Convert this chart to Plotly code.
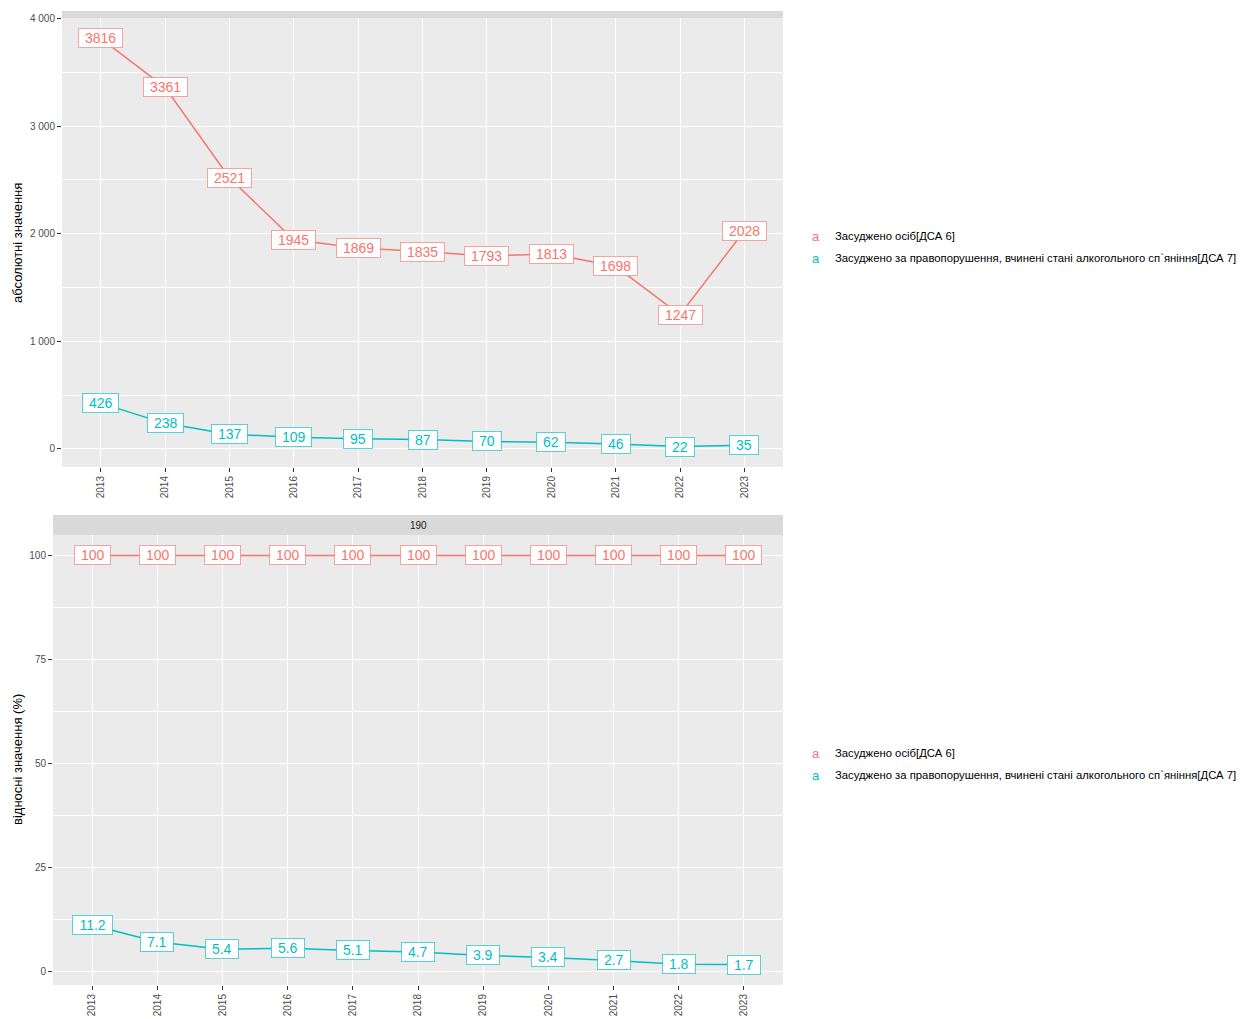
import plotly.graph_objects as go

years = [2013, 2014, 2015, 2016, 2017, 2018, 2019, 2020, 2021, 2022, 2023]
series_names = ["Засуджено осіб[ДСА 6]",
                "Засуджено за правопорушення, вчинені стані алкогольного сп`яніння[ДСА 7]"]
abs_convicted = [3816, 3361, 2521, 1945, 1869, 1835, 1793, 1813, 1698, 1247, 2028]
abs_alcohol = [426, 238, 137, 109, 95, 87, 70, 62, 46, 22, 35]
rel_convicted = [100, 100, 100, 100, 100, 100, 100, 100, 100, 100, 100]
rel_alcohol = [11.2, 7.1, 5.4, 5.6, 5.1, 4.7, 3.9, 3.4, 2.7, 1.8, 1.7]
rel_labels_alcohol = ["11.2", "7.1", "5.4", "5.6", "5.1", "4.7", "3.9", "3.4", "2.7", "1.8", "1.7"]

top_ticks = [0, 1000, 2000, 3000, 4000]
top_ticktext = ["0", "1 000", "2 000", "3 000", "4 000"]
top_minor = [500, 1500, 2500, 3500]
bot_ticks = [0, 25, 50, 75, 100]
bot_ticktext = ["0", "25", "50", "75", "100"]
bot_minor = [12.5, 37.5, 62.5, 87.5]
strip_label_bottom = "190"
ytitle_top = "абсолютні значення"
ytitle_bottom = "відносні значення (%)"

colors = ["#F8766D", "#00BFC4"]
border_colors = ["rgba(248,118,109,0.65)", "rgba(0,191,196,0.65)"]
W, H = 1242, 1019
FONT = "Liberation Sans, Arial, sans-serif"

def px(x):
    return x / W

def py(y):
    return 1 - y / H

fig = go.Figure()

panels = [
    dict(xa="x", ya="y", data=[abs_convicted, abs_alcohol],
         labels=[[str(v) for v in abs_convicted], [str(v) for v in abs_alcohol]]),
    dict(xa="x2", ya="y2", data=[rel_convicted, rel_alcohol],
         labels=[[str(v) for v in rel_convicted], rel_labels_alcohol]),
]

annotations = []
for p in panels:
    for i, (vals, labs) in enumerate(zip(p["data"], p["labels"])):
        fig.add_trace(go.Scatter(x=years, y=vals, mode="lines", xaxis=p["xa"], yaxis=p["ya"],
                                 line=dict(color=colors[i], width=1.5), showlegend=False,
                                 hoverinfo="skip"))
        for xv, yv, lb in zip(years, vals, labs):
            nd = sum(c.isdigit() for c in lb)
            wbox = nd * 7.8 + (3.9 if "." in lb else 0) + 10
            annotations.append(dict(x=xv, y=yv, xref=p["xa"], yref=p["ya"], text=lb,
                                    showarrow=False, font=dict(family=FONT, size=14, color=colors[i]),
                                    bgcolor="white", bordercolor=border_colors[i], borderwidth=1,
                                    borderpad=1, width=wbox, height=16,
                                    xanchor="center", yanchor="middle"))

def rng(vals_lists):
    lo = min(min(v) for v in vals_lists)
    hi = max(max(v) for v in vals_lists)
    e = (hi - lo) * 0.05
    return [lo - e, hi + e]

axis_common = dict(showline=False, zeroline=False, ticks="outside", ticklen=4,
                   tickcolor="#333333", tickwidth=1, gridcolor="white", gridwidth=1.1,
                   automargin=False,
                   tickfont=dict(family=FONT, size=10, color="#4D4D4D"))

fig.update_layout(
    width=W, height=H, margin=dict(l=0, r=0, t=0, b=0, pad=0, autoexpand=False),
    paper_bgcolor="white", plot_bgcolor="#EBEBEB",
    font=dict(family=FONT),
    xaxis=dict(domain=[px(62), px(783)], range=[2012.4, 2023.6], tickvals=years,
               tickangle=-90, anchor="y", **axis_common),
    yaxis=dict(domain=[py(467), py(18)], range=rng([abs_convicted, abs_alcohol]),
               tickvals=top_ticks, ticktext=top_ticktext, anchor="x",
               minor=dict(tickvals=top_minor, showgrid=True, gridcolor="white", gridwidth=0.55, ticks=""),
               **axis_common),
    xaxis2=dict(domain=[px(53), px(783)], range=[2012.4, 2023.6], tickvals=years,
                tickangle=-90, anchor="y2", **axis_common),
    yaxis2=dict(domain=[py(985), py(535)], range=rng([rel_convicted, rel_alcohol]),
                tickvals=bot_ticks, ticktext=bot_ticktext, anchor="x2",
                minor=dict(tickvals=bot_minor, showgrid=True, gridcolor="white", gridwidth=0.55, ticks=""),
                **axis_common),
)

shapes = [
    dict(type="rect", xref="paper", yref="paper", x0=px(62), x1=px(783), y0=py(18), y1=py(11),
         fillcolor="#D9D9D9", line=dict(width=0), layer="below"),
    dict(type="rect", xref="paper", yref="paper", x0=px(53), x1=px(783), y0=py(535), y1=py(515),
         fillcolor="#D9D9D9", line=dict(width=0), layer="below"),
]

annotations.append(dict(x=(px(53) + px(783)) / 2, y=py(525), xref="paper", yref="paper",
                        text=strip_label_bottom, showarrow=False,
                        font=dict(family=FONT, size=10, color="#1A1A1A"),
                        xanchor="center", yanchor="middle"))

annotations.append(dict(x=px(17), y=py(243), xref="paper", yref="paper", text=ytitle_top,
                        showarrow=False, textangle=-90, font=dict(family=FONT, size=13, color="black"),
                        xanchor="center", yanchor="middle"))
annotations.append(dict(x=px(17), y=py(760), xref="paper", yref="paper", text=ytitle_bottom,
                        showarrow=False, textangle=-90, font=dict(family=FONT, size=13, color="black"),
                        xanchor="center", yanchor="middle"))

for base in [236, 753]:
    for i, name in enumerate(series_names):
        yy = base + 22 * i
        annotations.append(dict(x=px(816), y=py(yy), xref="paper", yref="paper", text="a",
                                showarrow=False, font=dict(family=FONT, size=13, color=colors[i]),
                                xanchor="center", yanchor="middle"))
        annotations.append(dict(x=px(833), y=py(yy), xref="paper", yref="paper", text=name,
                                showarrow=False, font=dict(family=FONT, size=11.3, color="black"),
                                xanchor="left", yanchor="middle"))

fig.update_layout(shapes=shapes, annotations=annotations)
fig.write_html("out.html", config={"displayModeBar": False},
               post_script="document.body.style.margin='0px';document.body.style.padding='0px';")
